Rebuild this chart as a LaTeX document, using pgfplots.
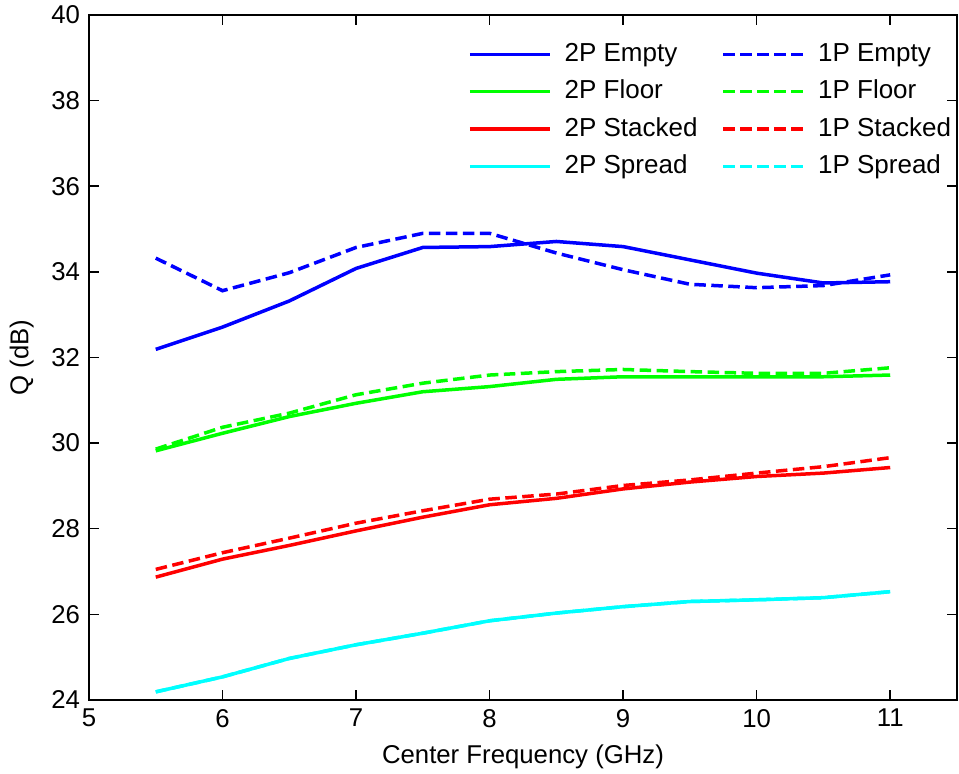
\documentclass[border=0pt]{standalone}
\usepackage{pgfplots}
\pgfplotsset{compat=1.18}
\usepackage{fontspec}
\setmainfont{Liberation Sans}
\definecolor{mblue}{RGB}{0,0,255}
\definecolor{mgreen}{RGB}{0,255,0}
\definecolor{mred}{RGB}{255,0,0}
\definecolor{mcyan}{RGB}{0,255,255}
\begin{document}
\fontsize{10.3}{12}\selectfont
\begin{tikzpicture}
\useasboundingbox (-35.6pt,-29.6pt) rectangle (348pt,280pt);
\begin{axis}[
  scale only axis,
  width=347.2pt, height=274pt,
  at={(0,0)}, anchor=south west,
  xmin=5, xmax=11.5, ymin=24, ymax=40,
  xtick={5,6,7,8,9,10,11},
  ytick={24,26,28,30,32,34,36,38,40},
  tick align=inside,
  tick pos=both,
  xticklabel pos=left, yticklabel pos=left,
  major tick length=4pt,
  axis line style={line width=0.6pt, black},
  every tick/.style={black, line width=0.6pt},
  /pgf/number format/assume math mode=true,
  ticklabel style={font=\fontsize{10.3}{12}\selectfont},
  label style={font=\fontsize{10.3}{12}\selectfont},
  xlabel={Center Frequency (GHz)},
  ylabel={Q (dB)},
  legend columns=2,
  legend cell align=left,
  legend style={draw=none, fill=none, at={(0.4276,0.974)}, anchor=north west,
    font=\fontsize{10.4}{12}\selectfont, row sep=1.9pt,
    /tikz/every even column/.append style={column sep=7.6pt}},
  legend image code/.code={\draw[#1] (0pt,0pt) -- (32pt,0pt); \path (35.2pt,0pt);},
  every axis plot/.append style={line width=1.4pt},
]
\addplot[mblue, solid] coordinates {(5.5,32.19)(6,32.71)(6.5,33.32)(7,34.08)(7.5,34.57)(8,34.59)(8.5,34.71)(9,34.59)(9.5,34.28)(10,33.97)(10.5,33.74)(11,33.77)};
\addlegendentry{2P Empty}
\addplot[mblue, dash pattern=on 4.6pt off 2.2pt] coordinates {(5.5,34.32)(6,33.56)(6.5,33.98)(7,34.57)(7.5,34.90)(8,34.90)(8.5,34.44)(9,34.05)(9.5,33.71)(10,33.63)(10.5,33.68)(11,33.93)};
\addlegendentry{1P Empty}
\addplot[mgreen, solid] coordinates {(5.5,29.82)(6,30.23)(6.5,30.62)(7,30.93)(7.5,31.20)(8,31.32)(8.5,31.49)(9,31.55)(9.5,31.55)(10,31.55)(10.5,31.55)(11,31.59)};
\addlegendentry{2P Floor}
\addplot[mgreen, dash pattern=on 4.6pt off 2.2pt] coordinates {(5.5,29.86)(6,30.37)(6.5,30.70)(7,31.13)(7.5,31.40)(8,31.59)(8.5,31.67)(9,31.72)(9.5,31.67)(10,31.63)(10.5,31.63)(11,31.76)};
\addlegendentry{1P Floor}
\addplot[mred, solid] coordinates {(5.5,26.87)(6,27.29)(6.5,27.61)(7,27.95)(7.5,28.27)(8,28.56)(8.5,28.71)(9,28.93)(9.5,29.09)(10,29.22)(10.5,29.30)(11,29.43)};
\addlegendentry{2P Stacked}
\addplot[mred, dash pattern=on 4.6pt off 2.2pt] coordinates {(5.5,27.05)(6,27.44)(6.5,27.78)(7,28.13)(7.5,28.42)(8,28.69)(8.5,28.81)(9,29.01)(9.5,29.14)(10,29.30)(10.5,29.45)(11,29.66)};
\addlegendentry{1P Stacked}
\addplot[mcyan, dash pattern=on 4.6pt off 2.2pt, forget plot] coordinates {(5.5,24.19)(6,24.54)(6.5,24.97)(7,25.29)(7.5,25.56)(8,25.85)(8.5,26.03)(9,26.18)(9.5,26.30)(10,26.34)(10.5,26.39)(11,26.53)};
\addplot[mcyan, solid] coordinates {(5.5,24.19)(6,24.54)(6.5,24.97)(7,25.29)(7.5,25.56)(8,25.85)(8.5,26.03)(9,26.18)(9.5,26.30)(10,26.34)(10.5,26.39)(11,26.53)};
\addlegendentry{2P Spread}
\addlegendimage{mcyan, line width=1.4pt, dash pattern=on 4.6pt off 2.2pt}
\addlegendentry{1P Spread}
\end{axis}
\end{tikzpicture}
\end{document}
